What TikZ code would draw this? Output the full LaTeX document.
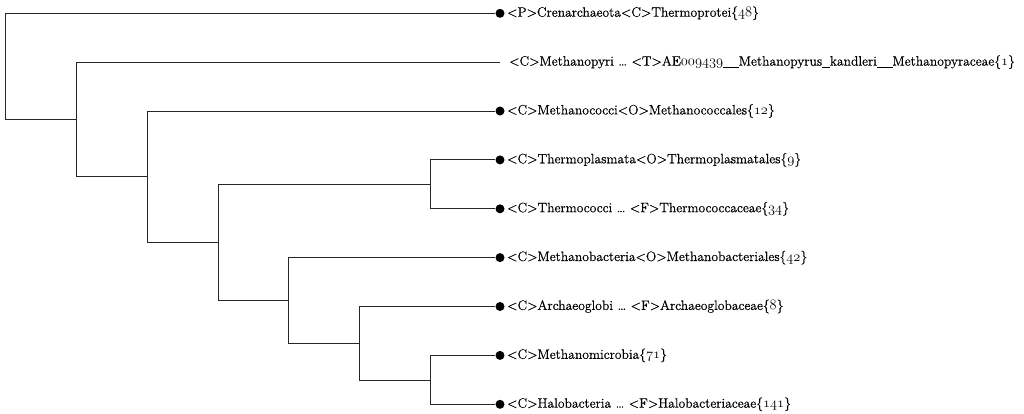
\documentclass[tikz,border=0pt]{standalone}
\usepackage{fontspec}
\newfontfamily\labfont{Latin Modern Roman}[FakeBold=0.6]
\newcommand\osn[1]{{\usefont{OML}{cmm}{m}{it}#1}}
\newcommand\us{\rule[-2.4pt]{7.8pt}{0.9pt}}
\begin{document}
\begin{tikzpicture}[x=1pt,y=-1pt,
  branch/.style={draw=black!85, line width=1pt},
  tipdot/.style={circle, fill=black, inner sep=0pt, minimum size=9pt},
  tipend/.style={inner sep=0pt, minimum size=0pt},
  tiplabel/.style={anchor=west, inner sep=0pt, font=\labfont\fontsize{13.6}{15}\selectfont}]
\useasboundingbox (0,0) rectangle (1024,413);
% internal nodes
\coordinate (n1) at (5.7,65.9);
\coordinate (n2) at (76.7,119.0);
\coordinate (n3) at (147.3,176.5);
\coordinate (n4) at (218,242.3);
\coordinate (n5) at (430,184.5);
\coordinate (n6) at (288.7,300.3);
\coordinate (n7) at (359.3,343.2);
\coordinate (n8) at (430,380.0);
% leaves
\node[tipdot] (l1) at (500,13.3) {};
\node[tipend] (l2) at (500,62.2) {};
\node[tipdot] (l3) at (500,111.0) {};
\node[tipdot] (l4) at (500,159.9) {};
\node[tipdot] (l5) at (500,208.8) {};
\node[tipdot] (l6) at (500,257.6) {};
\node[tipdot] (l7) at (500,306.5) {};
\node[tipdot] (l8) at (500,355.4) {};
\node[tipdot] (l9) at (500,404.3) {};
% labels
\node[tiplabel] (t1) at (507,13.3) {<P>Crenarchaeota<C>Thermoprotei\{\osn{48}\}};
\node[tiplabel] (t2) at (509,62.2) {<C>Methanopyri \dots{} <T>AE\osn{009439}\us\us Methanopyrus\us kandleri\us\us Methanopyraceae\{\osn{1}\}};
\node[tiplabel] (t3) at (507,111.0) {<C>Methanococci<O>Methanococcales\{\osn{12}\}};
\node[tiplabel] (t4) at (507,159.9) {<C>Thermoplasmata<O>Thermoplasmatales\{\osn{9}\}};
\node[tiplabel] (t5) at (507,208.8) {<C>Thermococci \dots{} <F>Thermococcaceae\{\osn{34}\}};
\node[tiplabel] (t6) at (507,257.6) {<C>Methanobacteria<O>Methanobacteriales\{\osn{42}\}};
\node[tiplabel] (t7) at (507,306.5) {<C>Archaeoglobi \dots{} <F>Archaeoglobaceae\{\osn{8}\}};
\node[tiplabel] (t8) at (507,355.4) {<C>Methanomicrobia\{\osn{71}\}};
\node[tiplabel] (t9) at (507,404.3) {<C>Halobacteria \dots{} <F>Halobacteriaceae\{\osn{141}\}};
% branches
\draw[branch] (n1) |- (l1);
\draw[branch] (n1) |- (n2);
\draw[branch] (n2) |- (l2.center);
\draw[branch] (n2) |- (n3);
\draw[branch] (n3) |- (l3);
\draw[branch] (n3) |- (n4);
\draw[branch] (n4) |- (n5);
\draw[branch] (n4) |- (n6);
\draw[branch] (n5) |- (l4);
\draw[branch] (n5) |- (l5);
\draw[branch] (n6) |- (l6);
\draw[branch] (n6) |- (n7);
\draw[branch] (n7) |- (l7);
\draw[branch] (n7) |- (n8);
\draw[branch] (n8) |- (l8);
\draw[branch] (n8) |- (l9);
\end{tikzpicture}
\end{document}
